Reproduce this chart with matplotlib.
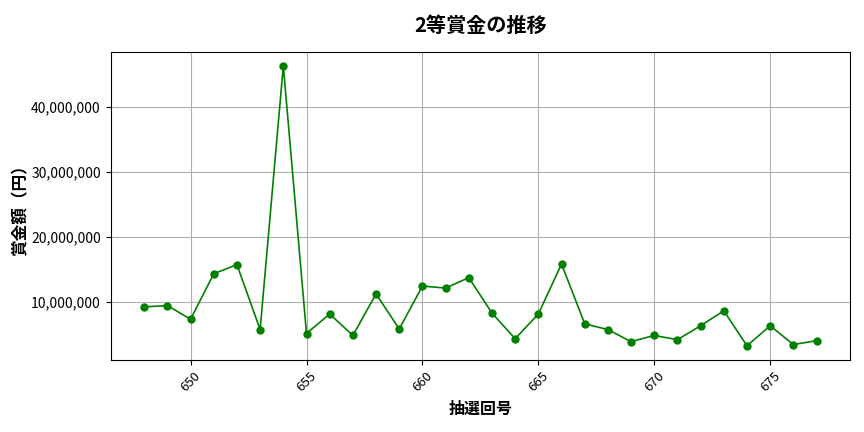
import matplotlib
matplotlib.use("Agg")
import matplotlib.pyplot as plt
from matplotlib.ticker import FuncFormatter

plt.rcParams['font.family'] = ['Noto Sans CJK JP', 'DejaVu Sans']

draws = list(range(648, 678))
prizes = [9.2, 9.4, 7.3, 14.3, 15.7, 5.7, 46.3, 5.1, 8.1, 4.8,
          11.2, 5.8, 12.4, 12.1, 13.7, 8.25, 4.3, 8.1, 15.8, 6.6,
          5.7, 3.85, 4.8, 4.15, 6.3, 8.6, 3.2, 6.3, 3.4, 4.0]
prizes = [v * 1_000_000 for v in prizes]

title = "2等賞金の推移"
xlabel = "抽選回号"
ylabel = "賞金額（円）"

fig = plt.figure(figsize=(8.64, 4.32), dpi=100)
ax = fig.add_axes([0.128, 0.167, 0.856, 0.713])
ax.plot(draws, prizes, color='green', marker='o', linewidth=1.2, markersize=5)
ax.set_title(title, fontsize=14.5, fontweight='bold', pad=14)
ax.set_xlabel(xlabel, fontsize=11.5, fontweight='bold', labelpad=5)
ax.set_ylabel(ylabel, fontsize=12, fontweight='bold', labelpad=1)
ax.yaxis.set_major_formatter(FuncFormatter(lambda v, p: f"{int(v):,}"))
ax.tick_params(axis='x', labelrotation=45, labelsize=9.5)
ax.tick_params(axis='y', labelsize=10)
ax.grid(True, color='#b0b0b0', linewidth=0.8)
fig.savefig("out.png", dpi=100)
